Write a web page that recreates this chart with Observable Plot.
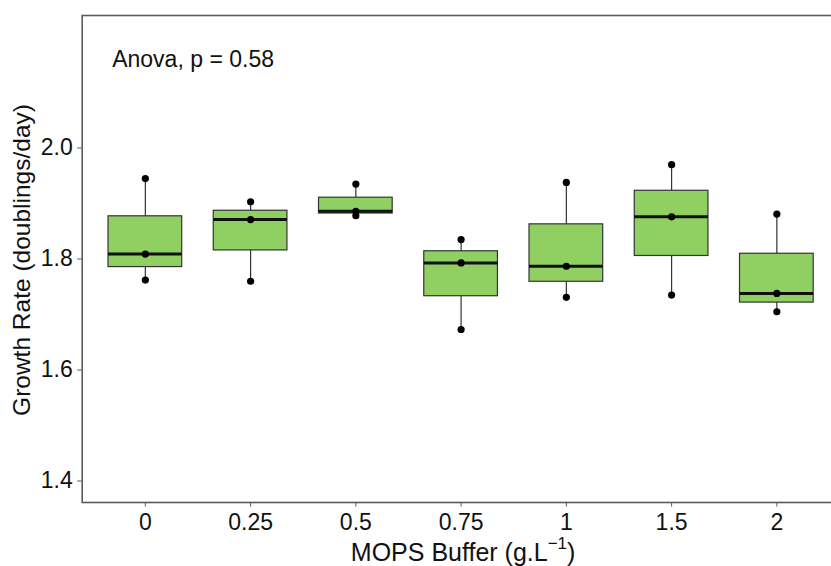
<!DOCTYPE html>
<html>
<head>
<meta charset="utf-8">
<script src="https://cdn.jsdelivr.net/npm/d3@7"></script>
<script src="https://cdn.jsdelivr.net/npm/@observablehq/plot@0.6"></script>
<style>
  html, body { margin: 0; padding: 0; background: #ffffff; overflow: hidden; }
  #chart { width: 831px; height: 566px; overflow: hidden; position: relative; }
  #chart svg { max-width: none !important; width: 900px !important; }
</style>
</head>
<body>
<div id="chart"></div>
<script>
// MOPS buffer concentrations (g.L-1), x categories
const mops = ["0", "0.25", "0.5", "0.75", "1", "1.5", "2"];
// Growth rates (doublings/day), three replicates per concentration
const rateHigh = [1.945, 1.903, 1.935, 1.835, 1.938, 1.970, 1.881];
const rateMid  = [1.809, 1.871, 1.886, 1.793, 1.787, 1.876, 1.738];
const rateLow  = [1.762, 1.760, 1.878, 1.673, 1.731, 1.735, 1.705];
// Axis ticks and text
const yTicks = [1.4, 1.6, 1.8, 2.0];
const yDomain = [1.3613, 2.2388];
const annotationText = ["Anova, p = 0.58"];
const xTitle = ["MOPS Buffer (g.L"];
const xTitleSup = "\u22121";
const yTitle = ["Growth Rate (doublings/day)"];

const points = mops.flatMap((g, i) =>
  [rateHigh[i], rateMid[i], rateLow[i]].map(v => ({g, v})));

const summary = mops.map((g, i) => {
  const vs = [rateHigh[i], rateMid[i], rateLow[i]].sort(d3.ascending);
  return {
    g,
    min: d3.min(vs),
    q1: d3.quantile(vs, 0.25),
    med: d3.median(vs),
    q3: d3.quantile(vs, 0.75),
    max: d3.max(vs)
  };
});

const font = "'Liberation Sans', Arial, Helvetica, sans-serif";
const axisGray = "#5a5a5a";

// The reference panel is cropped at its right edge: the plot is drawn wider
// than the 831px window and the container clips it.
const plot = Plot.plot({
  width: 900,
  height: 566,
  marginLeft: 81.7,
  marginRight: 0,
  marginTop: 15,
  marginBottom: 64,
  style: {fontFamily: font, fontSize: "23px", background: "white", color: "#111", maxWidth: "none"},
  x: {type: "band", domain: mops, range: [81.7, 839.5], paddingInner: 0.3, paddingOuter: 0.25, round: false},
  y: {domain: yDomain},
  marks: [
    Plot.frame({stroke: axisGray, strokeWidth: 1.6}),
    Plot.axisY({ticks: yTicks, tickFormat: d3.format(".1f"), tickSize: 4.5, tickPadding: 5,
      stroke: axisGray, fill: "#111", fontSize: 23, label: null}),
    Plot.axisX({tickSize: 4.5, tickPadding: 7, stroke: axisGray, fill: "#111", fontSize: 23, label: null}),
    Plot.ruleX(summary, {x: "g", y1: "min", y2: "max", stroke: "#333", strokeWidth: 1.2}),
    Plot.barY(summary, {x: "g", y1: "q1", y2: "q3", fill: "#90d062", stroke: "#333", strokeWidth: 1.2}),
    Plot.tickY(summary, {x: "g", y: "med", stroke: "#111", strokeWidth: 3}),
    Plot.dot(points, {x: "g", y: "v", r: 3.6, fill: "#000", stroke: null}),
    Plot.text(annotationText, {frameAnchor: "top-left", dx: 30, dy: 51.7, textAnchor: "start",
      lineAnchor: "bottom", fontSize: 23, fill: "#111"}),
    Plot.text(yTitle, {frameAnchor: "left", rotate: -90, dx: -52, dy: 1, textAnchor: "middle",
      lineAnchor: "bottom", fontSize: 24.5, fill: "#111"}),
    Plot.text(xTitle, {x: () => mops[3], frameAnchor: "bottom", dx: 2, dy: 58, textAnchor: "middle",
      lineAnchor: "bottom", fontSize: 25, fill: "#111"})
  ]
});

document.getElementById("chart").appendChild(plot);

// Add the superscript "-1" to the x title as real text
d3.select(plot).selectAll("text").each(function() {
  if (this.textContent === xTitle[0]) {
    const t = d3.select(this);
    t.text(null);
    t.append("tspan").text(xTitle[0]);
    t.append("tspan").attr("dy", "-12px").attr("font-size", "17px").text(xTitleSup);
    t.append("tspan").attr("dy", "12px").text(")");
  }
});
</script>
</body>
</html>
